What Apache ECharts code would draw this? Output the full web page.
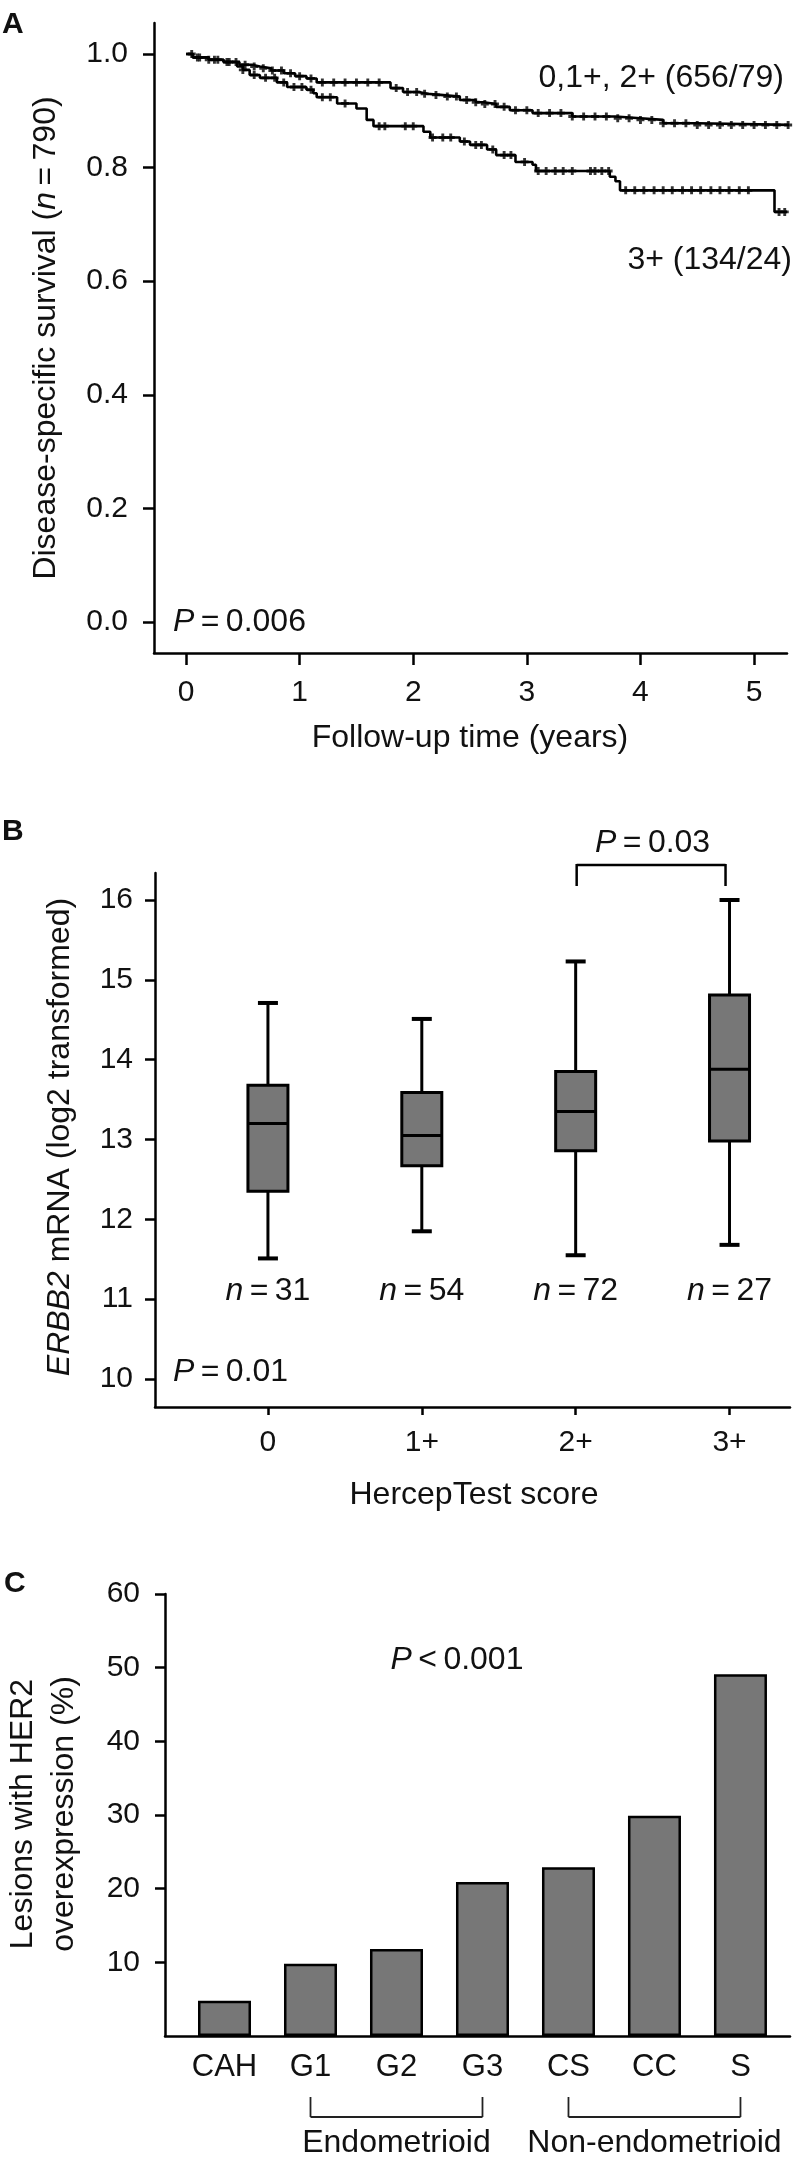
<!DOCTYPE html>
<html><head><meta charset="utf-8">
<script src="https://cdn.jsdelivr.net/npm/echarts@6/dist/echarts.min.js"></script>
<style>html,body{margin:0;padding:0;background:#fff}#c{width:799px;height:2170px}</style>
</head><body><div id="c"></div>
<script>
// ---------- Panel A: Kaplan-Meier ----------
const kmYearTicks = [0, 1, 2, 3, 4, 5];
const kmSurvTicks = [0, 0.2, 0.4, 0.6, 0.8, 1.0];
const kmGroupLabels = ['0,1+, 2+ (656/79)', '3+ (134/24)'];
// [time (years), survival after event]
const kmLowSteps = [[0,1.0],[0.06,0.994],[0.2,0.99],[0.33,0.986],[0.47,0.981],[0.58,0.978],[0.65,0.975],[0.75,0.971],[0.86,0.966],[0.96,0.961],[1.06,0.957],[1.15,0.95],[1.8,0.94],[1.91,0.933],[2.05,0.93],[2.12,0.928],[2.24,0.925],[2.41,0.919],[2.55,0.915],[2.62,0.912],[2.73,0.907],[2.85,0.901],[3.05,0.896],[3.4,0.89],[3.78,0.887],[4.0,0.884],[4.2,0.878],[4.5,0.875],[5.37,0.875]];
const kmLowCensor = [0.05,0.12,0.2,0.28,0.36,0.44,0.52,0.6,0.68,0.76,0.84,0.92,1.0,1.1,1.2,1.3,1.4,1.5,1.6,1.7,1.85,1.95,2.03,2.1,2.2,2.3,2.38,2.47,2.55,2.63,2.72,2.8,2.9,3.0,3.1,3.2,3.3,3.4,3.5,3.6,3.7,3.8,3.9,4.0,4.1,4.2,4.3,4.4,4.5,4.6,4.7,4.8,4.9,5.0,5.1,5.2,5.3];
const kmHighSteps = [[0,1.0],[0.06,0.994],[0.2,0.99],[0.33,0.986],[0.45,0.978],[0.5,0.972],[0.56,0.963],[0.65,0.958],[0.8,0.95],[0.89,0.942],[1.06,0.937],[1.12,0.931],[1.15,0.924],[1.33,0.913],[1.5,0.904],[1.59,0.884],[1.65,0.873],[2.09,0.863],[2.15,0.853],[2.41,0.846],[2.5,0.84],[2.65,0.832],[2.73,0.822],[2.9,0.81],[3.05,0.805],[3.08,0.794],[3.73,0.784],[3.78,0.776],[3.82,0.76],[5.18,0.722],[5.29,0.722]];
const kmHighCensor = [0.1,0.25,0.38,0.5,0.6,0.7,0.78,0.86,0.95,1.02,1.1,1.2,1.27,1.4,1.7,1.75,1.93,2.0,2.17,2.26,2.33,2.45,2.55,2.6,2.7,2.8,2.86,2.98,3.1,3.17,3.25,3.32,3.4,3.56,3.6,3.66,3.72,3.87,3.95,4.03,4.12,4.2,4.28,4.37,4.45,4.53,4.62,4.7,4.78,4.87,4.95,5.22,5.27];

// ---------- Panel B: box plots ----------
const hercepScores = ['0', '1+', '2+', '3+'];
// [low whisker, Q1, median, Q3, high whisker]
const erbbBoxes = [
  [11.51, 12.35, 13.2, 13.68, 14.71],
  [11.85, 12.67, 13.05, 13.59, 14.51],
  [11.55, 12.86, 13.35, 13.85, 15.23],
  [11.68, 12.98, 13.88, 14.81, 16.0]
];
const erbbN = [31, 54, 72, 27];
const erbbTicks = [10, 11, 12, 13, 14, 15, 16];

// ---------- Panel C: bars ----------
const lesionTypes = ['CAH', 'G1', 'G2', 'G3', 'CS', 'CC', 'S'];
const her2Pct = [4.8, 9.8, 11.8, 20.9, 22.9, 29.9, 49.1];
const her2Ticks = [10, 20, 30, 40, 50, 60];
const lesionGroups = [
  { name: 'Endometrioid', from: 1, to: 3 },
  { name: 'Non-endometrioid', from: 4, to: 6 }
];

const FONT = '"Liberation Sans", Arial, Helvetica, sans-serif';
const TXT = '#111';
const crossSym = 'path://M3.2,0 H6.8 V3.2 H10 V6.8 H6.8 V10 H3.2 V6.8 H0 V3.2 H3.2 Z';

function survAt(steps, t) {
  let s = steps[0][1];
  for (const [tt, v] of steps) { if (tt <= t) s = v; else break; }
  return s;
}

const axisLineS = { onZero: false, lineStyle: { color: '#000', width: 2.5 } };
function tick(len, vals) { return { length: len, customValues: vals, lineStyle: { color: '#000', width: 2.5 } }; }
function lab(vals, margin, size, fmt) {
  return { customValues: vals, margin: margin, fontSize: size, fontFamily: FONT, color: TXT, formatter: fmt };
}

const chart = echarts.init(document.getElementById('c'), null, { renderer: 'canvas' });

const option = {
  animation: false,
  backgroundColor: '#fff',
  grid: [
    { left: 154, top: 23, width: 633, height: 630 },
    { left: 155, top: 873, width: 635, height: 534 },
    { left: 165, top: 1594, width: 625, height: 442 }
  ],
  xAxis: [
    { type: 'value', gridIndex: 0, min: -0.282, max: 5.29, splitLine: { show: false },
      axisLine: axisLineS, axisTick: tick(12, kmYearTicks),
      axisLabel: lab(kmYearTicks, 25, 30, v => String(v)) },
    { type: 'value', gridIndex: 1, min: -0.734, max: 3.393, splitLine: { show: false },
      axisLine: axisLineS, axisTick: tick(8, [0, 1, 2, 3]),
      axisLabel: lab([0, 1, 2, 3], 21, 30, v => hercepScores[Math.round(v)]) },
    { type: 'value', gridIndex: 2, min: -0.692, max: 6.576, splitLine: { show: false },
      axisLine: axisLineS, axisTick: { show: false },
      axisLabel: lab([0, 1, 2, 3, 4, 5, 6], 16, 31, v => lesionTypes[Math.round(v)]) }
  ],
  yAxis: [
    { type: 'value', gridIndex: 0, min: -0.0546, max: 1.0546, splitLine: { show: false },
      axisLine: axisLineS, axisTick: tick(11, kmSurvTicks),
      axisLabel: lab(kmSurvTicks, 26, 30, v => v.toFixed(1)) },
    { type: 'value', gridIndex: 1, min: 9.649, max: 16.338, splitLine: { show: false },
      axisLine: axisLineS, axisTick: tick(10, erbbTicks),
      axisLabel: lab(erbbTicks, 22, 30, v => String(v)) },
    { type: 'value', gridIndex: 2, min: 0, max: 60, splitLine: { show: false },
      axisLine: axisLineS, axisTick: tick(10, her2Ticks),
      axisLabel: lab(her2Ticks, 25, 30, v => String(v)) }
  ],
  series: [
    { type: 'line', name: kmGroupLabels[0], xAxisIndex: 0, yAxisIndex: 0, step: 'end', data: kmLowSteps,
      showSymbol: false, symbol: 'none', clip: false, silent: true, lineStyle: { color: '#000', width: 2.6 } },
    { type: 'line', name: kmGroupLabels[1], xAxisIndex: 0, yAxisIndex: 0, step: 'end', data: kmHighSteps,
      showSymbol: false, symbol: 'none', clip: false, silent: true, lineStyle: { color: '#000', width: 2.6 } },
    { type: 'scatter', xAxisIndex: 0, yAxisIndex: 0, symbol: crossSym, symbolSize: 8, clip: false, silent: true,
      itemStyle: { color: '#000' }, data: kmLowCensor.map(t => [t, survAt(kmLowSteps, t)]) },
    { type: 'scatter', xAxisIndex: 0, yAxisIndex: 0, symbol: crossSym, symbolSize: 8, clip: false, silent: true,
      itemStyle: { color: '#000' }, data: kmHighCensor.map(t => [t, survAt(kmHighSteps, t)]) },
    { type: 'custom', xAxisIndex: 1, yAxisIndex: 1, silent: true, clip: false,
      encode: { x: 0, y: [1, 2, 3, 4, 5] },
      data: erbbBoxes.map((b, i) => [i].concat(b)),
      renderItem: function (params, api) {
        const x = api.value(0);
        const lo = api.coord([x, api.value(1)]);
        const q1 = api.coord([x, api.value(2)]);
        const md = api.coord([x, api.value(3)]);
        const q3 = api.coord([x, api.value(4)]);
        const hi = api.coord([x, api.value(5)]);
        const cx = lo[0], bw = 40, cw = 20;
        const ls = { stroke: '#000', lineWidth: 3 };
        return { type: 'group', children: [
          { type: 'line', shape: { x1: cx, y1: hi[1], x2: cx, y2: q3[1] }, style: ls },
          { type: 'line', shape: { x1: cx, y1: q1[1], x2: cx, y2: lo[1] }, style: ls },
          { type: 'line', shape: { x1: cx - cw / 2, y1: hi[1], x2: cx + cw / 2, y2: hi[1] }, style: { stroke: '#000', lineWidth: 4 } },
          { type: 'line', shape: { x1: cx - cw / 2, y1: lo[1], x2: cx + cw / 2, y2: lo[1] }, style: { stroke: '#000', lineWidth: 4 } },
          { type: 'rect', shape: { x: cx - bw / 2, y: q3[1], width: bw, height: q1[1] - q3[1] }, style: { fill: '#777777', stroke: '#000', lineWidth: 3 } },
          { type: 'line', shape: { x1: cx - bw / 2, y1: md[1], x2: cx + bw / 2, y2: md[1] }, style: ls }
        ] };
      } },
    { type: 'bar', xAxisIndex: 2, yAxisIndex: 2, barWidth: 53, silent: true,
      data: her2Pct.map((v, i) => [i, v]),
      itemStyle: { color: '#777777', borderColor: '#000', borderWidth: 2.5 } }
  ]
};
chart.setOption(option);

// ---------- annotations ----------
const rich = { i: { fontStyle: 'italic', fontSize: 32, fontFamily: FONT, fill: TXT } };
function txt(text, x, y, opts) {
  opts = opts || {};
  return { type: 'text', x: x, y: y, rotation: opts.rot || 0, silent: true,
    style: { text: text, fontSize: opts.size || 32, fontFamily: FONT, fontWeight: opts.bold ? 'bold' : 'normal',
      fill: TXT, align: opts.align || 'center', verticalAlign: 'middle', rich: rich } };
}
function seg(x1, y1, x2, y2, w, c) {
  return { type: 'line', silent: true, shape: { x1: x1, y1: y1, x2: x2, y2: y2 }, style: { stroke: c || '#000', lineWidth: w || 2 } };
}
const px = (g, p) => chart.convertToPixel({ gridIndex: g }, p);
const g = [];
// panel letters
g.push(txt('A', 2, 25, { align: 'left', bold: true, size: 30 }));
g.push(txt('B', 2, 832, { align: 'left', bold: true, size: 30 }));
g.push(txt('C', 4, 1584, { align: 'left', bold: true, size: 30 }));
// Panel A
g.push(txt(kmGroupLabels[0], 784, 78, { align: 'right' }));
g.push(txt(kmGroupLabels[1], 792, 260, { align: 'right' }));
g.push(txt('{i|P}\u2009=\u20090.006', 173, 622, { align: 'left' }));
g.push(txt('Disease-specific survival ({i|n}\u2009=\u2009790)', 46, 338, { rot: Math.PI / 2 }));
g.push(txt('Follow-up time (years)', 470, 738));
// Panel B
erbbN.forEach((n, i) => { const p = px(1, [i, 11.1]); g.push(txt('{i|n}\u2009=\u2009' + n, p[0], p[1])); });
const b2 = px(1, [2, 16]), b3 = px(1, [3, 16]);
g.push(seg(b2[0] + 1, 865, b3[0] - 4, 865, 2.5));
g.push(seg(b2[0] + 1, 864, b2[0] + 1, 886, 2.5));
g.push(seg(b3[0] - 4, 864, b3[0] - 4, 886, 2.5));
g.push(txt('{i|P}\u2009=\u20090.03', (b2[0] + b3[0]) / 2, 843));
g.push(txt('{i|P}\u2009=\u20090.01', 173, 1372, { align: 'left' }));
g.push(txt('{i|ERBB2} mRNA (log2 transformed)', 60, 1137, { rot: Math.PI / 2 }));
g.push(txt('HercepTest score', 474, 1495));
// Panel C
g.push(txt('{i|P}\u2009<\u20090.001', 457, 1660));
g.push(txt('Lesions with HER2', 23, 1814, { rot: Math.PI / 2 }));
g.push(txt('overexpression (%)', 64, 1814, { rot: Math.PI / 2 }));
lesionGroups.forEach(grp => {
  const a = px(2, [grp.from, 0])[0], b = px(2, [grp.to, 0])[0];
  g.push(seg(a, 2097, a, 2117, 1.8, '#222'));
  g.push(seg(b, 2097, b, 2117, 1.8, '#222'));
  g.push(seg(a, 2117, b, 2117, 1.8, '#222'));
  g.push(txt(grp.name, (a + b) / 2, 2143));
});
chart.setOption({ graphic: { elements: g } });
</script>
</body></html>
